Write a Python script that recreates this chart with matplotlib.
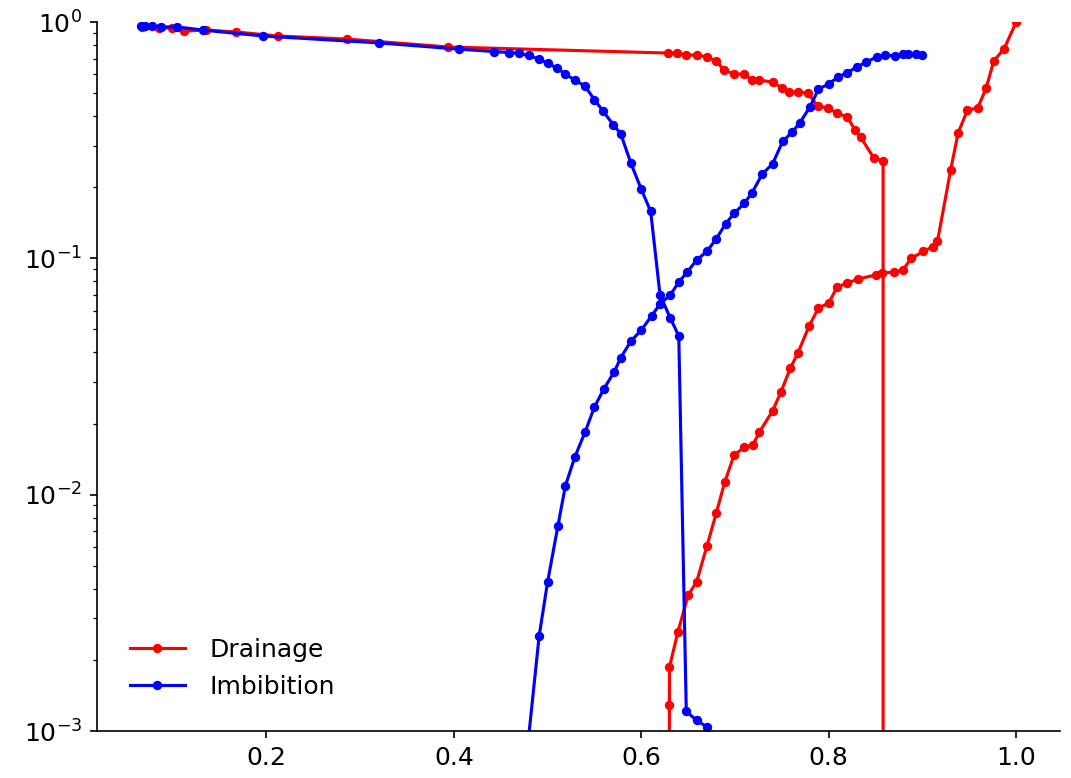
import numpy as np
import matplotlib
matplotlib.use("Agg")
import matplotlib.pyplot as plt

plt.rcParams['font.size'] = 12

#### drainage curves (red) ####
sw_dr_oil = [0.067, 0.085, 0.099, 0.112, 0.136, 0.168, 0.212, 0.286, 0.394,
             0.629, 0.638, 0.648, 0.659, 0.670, 0.680, 0.688, 0.699, 0.710,
             0.718, 0.726, 0.740, 0.750, 0.758, 0.767, 0.778, 0.788, 0.799,
             0.809, 0.820, 0.828, 0.834, 0.848, 0.858, 0.858]
kr_dr_oil = [0.952, 0.943, 0.943, 0.916, 0.925, 0.907, 0.873, 0.847, 0.784,
             0.739, 0.739, 0.725, 0.725, 0.711, 0.684, 0.627, 0.602, 0.602,
             0.568, 0.568, 0.557, 0.526, 0.506, 0.506, 0.500, 0.441, 0.433,
             0.412, 0.396, 0.349, 0.326, 0.266, 0.258, 1e-6]

sw_dr_wat = [0.629, 0.630, 0.630, 0.639, 0.650, 0.659, 0.670, 0.680, 0.689,
             0.699, 0.710, 0.719, 0.726, 0.740, 0.749, 0.759, 0.767, 0.779,
             0.789, 0.800, 0.809, 0.820, 0.831, 0.850, 0.857, 0.870, 0.879,
             0.888, 0.901, 0.911, 0.916, 0.930, 0.938, 0.948, 0.959, 0.968,
             0.976, 0.987, 1.000]
kr_dr_wat = [1e-6, 1.29e-3, 1.86e-3, 2.62e-3, 3.76e-3, 4.27e-3, 6.06e-3, 8.36e-3, 0.0113,
             0.0147, 0.0159, 0.0162, 0.0184, 0.0226, 0.0272, 0.0343, 0.0397, 0.0517,
             0.0616, 0.0647, 0.0757, 0.0786, 0.0817, 0.0850, 0.0867, 0.0875, 0.0892,
             0.100, 0.107, 0.112, 0.118, 0.236, 0.339, 0.424, 0.433, 0.526,
             0.684, 0.769, 1.0]

#### imbibition curves (blue) ####
sw_im_oil = [0.066, 0.071, 0.078, 0.088, 0.105, 0.132, 0.196, 0.320, 0.405,
             0.443, 0.459, 0.470, 0.480, 0.491, 0.500, 0.510, 0.519, 0.529,
             0.540, 0.550, 0.559, 0.570, 0.578, 0.589, 0.600, 0.610, 0.620,
             0.631, 0.640, 0.648, 0.659, 0.670]
kr_im_oil = [0.962, 0.962, 0.962, 0.953, 0.953, 0.925, 0.873, 0.816, 0.768,
             0.750, 0.743, 0.736, 0.722, 0.695, 0.670, 0.638, 0.602, 0.568,
             0.535, 0.469, 0.421, 0.368, 0.337, 0.252, 0.196, 0.158, 0.0699,
             0.0559, 0.0469, 1.21e-3, 1.11e-3, 1.04e-3]

sw_im_wat = [0.470, 0.491, 0.500, 0.511, 0.519, 0.529, 0.540, 0.550, 0.560,
             0.571, 0.578, 0.589, 0.600, 0.611, 0.620, 0.631, 0.640, 0.649,
             0.659, 0.670, 0.680, 0.690, 0.699, 0.710, 0.718, 0.729, 0.740,
             0.751, 0.761, 0.769, 0.780, 0.789, 0.800, 0.810, 0.819, 0.830,
             0.840, 0.851, 0.860, 0.871, 0.879, 0.885, 0.893, 0.900]
kr_im_wat = [4e-4, 2.52e-3, 4.27e-3, 7.36e-3, 0.0109, 0.0144, 0.0184, 0.0235, 0.0280,
             0.0330, 0.0379, 0.0447, 0.0497, 0.0571, 0.0641, 0.0700, 0.0794, 0.0875,
             0.0984, 0.107, 0.121, 0.140, 0.155, 0.171, 0.189, 0.227, 0.251,
             0.313, 0.342, 0.374, 0.437, 0.520, 0.547, 0.585, 0.608, 0.645,
             0.677, 0.711, 0.725, 0.718, 0.732, 0.732, 0.732, 0.725]

fig, ax = plt.subplots(figsize=(1071 / 150, 778 / 150), dpi=150)
fig.subplots_adjust(left=0.0906, right=0.9897, top=0.9717, bottom=0.0604)

ax.plot(sw_dr_oil, kr_dr_oil, 'r.-', label='Drainage', ms=7)
ax.plot(sw_dr_wat, kr_dr_wat, 'r.-', ms=7)
ax.plot(sw_im_oil, kr_im_oil, 'b.-', label='Imbibition', ms=7)
ax.plot(sw_im_wat, kr_im_wat, 'b.-', ms=7)

ax.set_yscale('log')
ax.set_ylim(1e-3, 1)
ax.spines['top'].set_visible(False)
ax.spines['right'].set_visible(False)
ax.legend(loc='lower left', frameon=False, handlelength=2.2,
          handletextpad=1.0, borderaxespad=0.9)

plt.savefig("out.png", dpi=150)
